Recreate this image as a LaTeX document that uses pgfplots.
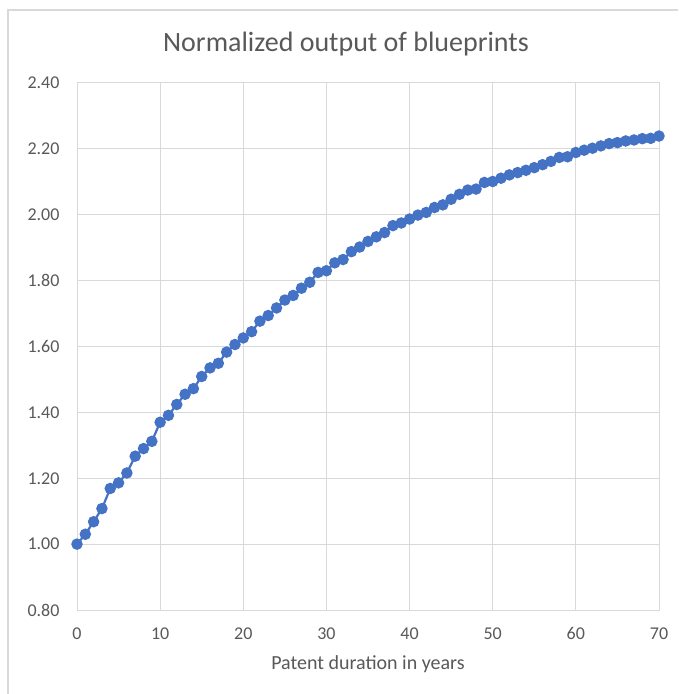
\documentclass[border=0pt]{standalone}
\usepackage{pgfplots}
\pgfplotsset{compat=1.18}
\usepackage{fontspec}
\setmainfont{Carlito}
\definecolor{ser}{HTML}{4472C4}
\definecolor{gridc}{HTML}{D9D9D9}
\definecolor{txt}{HTML}{595959}
\begin{document}
\begin{tikzpicture}[x=1pt,y=1pt]
\useasboundingbox (0,0) rectangle (678,694);
\fill[white] (0,0) rectangle (678,694);
\draw[gridc, line width=1.2pt] (8,0) -- (8,684) -- (678,684);
\node[txt, font=\fontsize{28}{32}\selectfont] at (346,650) {Normalized output of blueprints};
\begin{axis}[
  at={(77pt,84pt)}, anchor=south west,
  scale only axis, width=582pt, height=527pt,
  xmin=0, xmax=70, ymin=0.8, ymax=2.4,
  xtick={0,10,...,70}, ytick={0.8,1.0,...,2.4},
  major tick length=0pt,
  grid=major,
  grid style={gridc, line width=1pt},
  axis line style={gridc, line width=1pt},
  tick label style={txt, font=\fontsize{18}{20}\selectfont},
  /pgf/number format/assume math mode=true,
  yticklabel style={/pgf/number format/fixed, /pgf/number format/fixed zerofill, /pgf/number format/precision=2, xshift=-14pt},
  xticklabel style={/pgf/number format/fixed, /pgf/number format/precision=0, yshift=-14pt},
  xlabel={Patent duration in years},
  xlabel style={txt, font=\fontsize{20}{22}\selectfont, yshift=-9pt},
  clip=false,
]
\addplot[ser, line width=2.2pt, mark=*, mark size=4.6pt, mark options={fill=ser, draw=ser}] coordinates {
(0,1.000) (1,1.030) (2,1.068) (3,1.108) (4,1.169) (5,1.186) (6,1.216) (7,1.267) (8,1.290) (9,1.312)
(10,1.370) (11,1.391) (12,1.424) (13,1.455) (14,1.472) (15,1.509) (16,1.535) (17,1.549) (18,1.583) (19,1.606)
(20,1.626) (21,1.645) (22,1.677) (23,1.694) (24,1.717) (25,1.741) (26,1.755) (27,1.777) (28,1.795) (29,1.825)
(30,1.830) (31,1.854) (32,1.864) (33,1.888) (34,1.902) (35,1.919) (36,1.933) (37,1.946) (38,1.967) (39,1.975)
(40,1.987) (41,1.999) (42,2.007) (43,2.022) (44,2.030) (45,2.047) (46,2.062) (47,2.075) (48,2.078) (49,2.098)
(50,2.101) (51,2.111) (52,2.121) (53,2.128) (54,2.135) (55,2.143) (56,2.152) (57,2.162) (58,2.174) (59,2.176)
(60,2.189) (61,2.196) (62,2.202) (63,2.209) (64,2.216) (65,2.219) (66,2.224) (67,2.227) (68,2.231) (69,2.232)
(70,2.239)
};
\end{axis}
\end{tikzpicture}
\end{document}
